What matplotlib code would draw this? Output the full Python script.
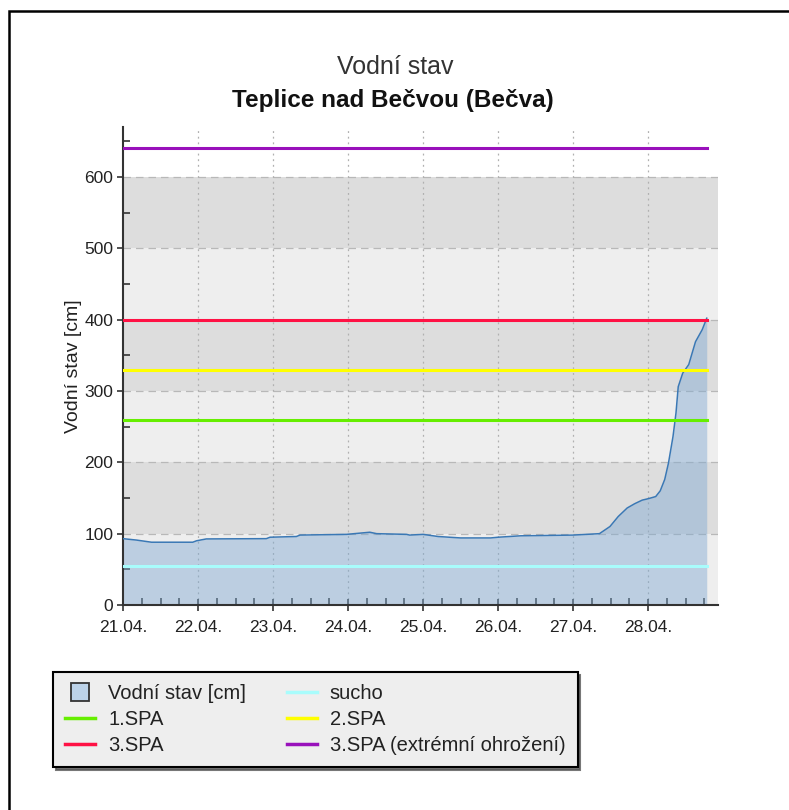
import numpy as np
import matplotlib.pyplot as plt
from matplotlib.patches import Rectangle
from matplotlib.lines import Line2D
from matplotlib.ticker import MultipleLocator

plt.rcParams['font.family'] = ['Liberation Sans', 'DejaVu Sans']

# cas ve dnech od 21.04. 00:00, vodni stav v cm
cas = [0.0, 0.18, 0.38, 0.93, 0.98, 1.11, 1.91, 1.96, 2.31, 2.36, 2.98, 3.29, 3.38,
       3.78, 3.82, 4.0, 4.2, 4.5, 4.9, 5.0, 5.3, 6.0, 6.35, 6.49, 6.6, 6.72, 6.82,
       6.92, 7.0, 7.1, 7.16, 7.22, 7.27, 7.33, 7.37, 7.40, 7.46, 7.54, 7.63, 7.72, 7.78]
stav = [93, 91, 88, 88, 90, 92.6, 93, 95, 96, 98, 99, 102, 100,
        99, 98, 99, 96, 94, 94, 95, 97, 98, 100, 110, 124, 136, 142,
        147, 149, 152, 160, 176, 199, 236, 269, 306, 325, 337, 369, 386, 402]

dny = ['21.04.', '22.04.', '23.04.', '24.04.', '25.04.', '26.04.', '27.04.', '28.04.']

limity = {
    'sucho': 55,
    '1.SPA': 260,
    '2.SPA': 330,
    '3.SPA': 400,
    '3.SPA (extrémní ohrožení)': 640,
}
barvy = {
    'sucho': '#a8fcfc',
    '1.SPA': '#66ee00',
    '2.SPA': '#ffff00',
    '3.SPA': '#ff1144',
    '3.SPA (extrémní ohrožení)': '#9911bb',
}

fig = plt.figure(figsize=(7.89, 8.1), dpi=100)
ax = fig.add_axes([123/789, 1 - 605/810, 595/789, 478/810])

x_max = 7.93
# stridave sede pasy
for i, y0 in enumerate(range(0, 600, 100)):
    c = '#eeeeee' if i % 2 == 0 else '#dddddd'
    ax.axhspan(y0, y0 + 100, color=c, lw=0, zorder=0)

for y in range(100, 700, 100):
    ax.axhline(y, color='#b8b8b8', lw=0.9, ls=(0, (6, 4)), zorder=1)
for d in range(1, 8):
    ax.axvline(d, color='#b0b0b0', lw=0.9, ls=(0, (1.5, 3)), zorder=1)

ax.fill_between(cas, 0, stav, color='#7fa9d2', alpha=0.45, lw=0, zorder=2)
ax.plot(cas, stav, color='#3a78b5', lw=1.1, zorder=3)

for k, v in limity.items():
    ax.plot([0, cas[-1]], [v, v], color=barvy[k], lw=2.2, zorder=4)

ax.set_xlim(0, x_max)
ax.set_ylim(0, 670)
ax.set_xticks(range(8))
ax.set_xticklabels(dny)
ax.xaxis.set_minor_locator(MultipleLocator(0.25))
ax.yaxis.set_major_locator(MultipleLocator(100))
ax.yaxis.set_minor_locator(MultipleLocator(50))
ax.tick_params(axis='x', which='major', direction='inout', length=8, width=1.2,
               labelsize=12.5, pad=7, color='#333333', labelcolor='#222222')
ax.tick_params(axis='x', which='minor', direction='in', length=5, width=1.2, color='#333333')
ax.tick_params(axis='y', which='major', direction='out', length=4, width=1.2,
               labelsize=12.5, pad=3, color='#333333', labelcolor='#222222')
ax.tick_params(axis='y', which='minor', direction='in', length=5, width=1.2, color='#333333')
for s in ['top', 'right']:
    ax.spines[s].set_visible(False)
for s in ['left', 'bottom']:
    ax.spines[s].set_color('#333333')
    ax.spines[s].set_linewidth(1.5)
ax.set_facecolor('white')
ax.set_ylabel('Vodní stav [cm]', fontsize=14, color='#222222', labelpad=2)

fig.text(395/789, 1 - 67/810, 'Vodní stav', ha='center', va='center',
         fontsize=18, color='#333333')
fig.text(393/789, 1 - 100/810, 'Teplice nad Bečvou (Bečva)', ha='center',
         va='center', fontsize=17.5, fontweight='bold', color='#111111')

# ramecek kolem obrazku
fig.add_artist(Rectangle((9/789, -0.1), 1.2, 1 - 11/810 + 0.1, transform=fig.transFigure,
                         fill=False, ec='black', lw=1.8))

handles = [
    Line2D([], [], ls='none', marker='s', markersize=13, markerfacecolor='#bcd2e8',
           markeredgecolor='#333333', markeredgewidth=1.3, label='Vodní stav [cm]'),
    Line2D([], [], color=barvy['1.SPA'], lw=2.5, label='1.SPA'),
    Line2D([], [], color=barvy['3.SPA'], lw=2.5, label='3.SPA'),
    Line2D([], [], color=barvy['sucho'], lw=2.5, label='sucho'),
    Line2D([], [], color=barvy['2.SPA'], lw=2.5, label='2.SPA'),
    Line2D([], [], color=barvy['3.SPA (extrémní ohrožení)'], lw=2.5,
           label='3.SPA (extrémní ohrožení)'),
]
leg = fig.legend(handles=handles, ncol=2, loc='upper left',
                 bbox_to_anchor=(53/789, 1 - 672/810), fontsize=14.5,
                 frameon=True, fancybox=False, shadow={'color': '#555555', 'alpha': 0.8},
                 facecolor='#eeeeee', edgecolor='black', framealpha=1,
                 handlelength=1.5, handleheight=0.9, columnspacing=2.0,
                 labelspacing=0.33, borderpad=0.6, borderaxespad=0,
                 handletextpad=0.65)
leg.get_frame().set_linewidth(1.5)
for t in leg.get_texts():
    t.set_color('#222222')

fig.savefig('out.png', dpi=100)
